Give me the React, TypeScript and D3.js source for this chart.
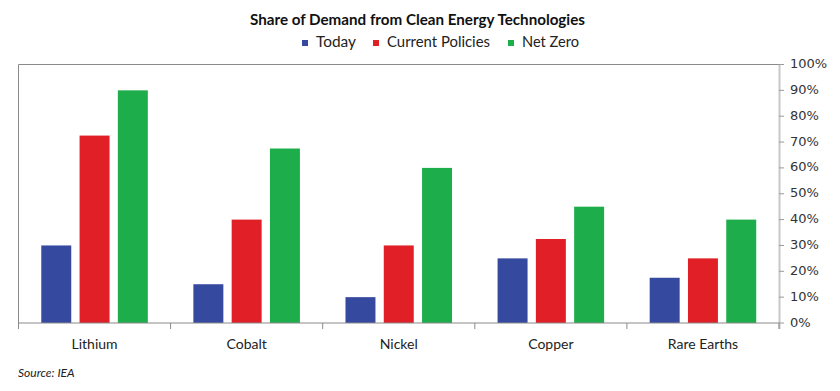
import * as d3 from "d3";

const categories = ["Lithium", "Cobalt", "Nickel", "Copper", "Rare Earths"];
const seriesNames = ["Today", "Current Policies", "Net Zero"];
const today = [30, 15, 10, 25, 17.5];
const currentPolicies = [72.5, 40, 30, 32.5, 25];
const netZero = [90, 67.5, 60, 45, 40];
const seriesColors = ["#354a9f", "#e01f26", "#1dae4b"];
const yTicks = [0, 10, 20, 30, 40, 50, 60, 70, 80, 90, 100];

const WIDTH = 840;
const HEIGHT = 391;
const MARGIN = { top: 64.5, right: 61, bottom: 68, left: 18.5 };

// legend layout: square x, text width
const legendItems = [
  { x: 302, textW: 40 },
  { x: 373, textW: 103 },
  { x: 508, textW: 57 },
];

export default function App() {
  const boundsWidth = WIDTH - MARGIN.left - MARGIN.right;
  const boundsHeight = HEIGHT - MARGIN.top - MARGIN.bottom;
  const values = [today, currentPolicies, netZero];

  const x0 = d3
    .scaleBand()
    .domain(categories)
    .range([MARGIN.left, MARGIN.left + boundsWidth])
    .padding(0);

  const x1 = d3
    .scaleBand()
    .domain(seriesNames)
    .range([0, x0.bandwidth()])
    .paddingInner(0.217)
    .paddingOuter(0.595);

  const y = d3
    .scaleLinear()
    .domain([0, 100])
    .range([MARGIN.top + boundsHeight, MARGIN.top]);

  const right = MARGIN.left + boundsWidth;
  const bottom = y(0);

  return (
    <svg
      width={WIDTH}
      height={HEIGHT}
      style={{ position: "absolute", left: 0, top: 0 }}
    >
      <rect width={WIDTH} height={HEIGHT} fill="#fff" />

      {/* title + legend */}
      <text
        x={250}
        y={25}
        fontFamily="Lato, sans-serif"
        fontWeight="bold"
        fontSize={14.5}
        fill="#111"
        textLength={335}
        lengthAdjust="spacingAndGlyphs"
      >
        Share of Demand from Clean Energy Technologies
      </text>
      {legendItems.map((it, i) => (
        <g key={i}>
          <rect x={it.x} y={40} width={6} height={6} fill={seriesColors[i]} />
          <text
            x={it.x + 14}
            y={47}
            fontFamily="Lato, sans-serif"
            fontSize={14.5}
            fill="#222"
            textLength={it.textW}
            lengthAdjust="spacingAndGlyphs"
          >
            {seriesNames[i]}
          </text>
        </g>
      ))}

      {/* frame */}
      <line x1={MARGIN.left} x2={right + 4} y1={y(100)} y2={y(100)} stroke="#8a8a8a" strokeWidth={1} />
      <line x1={MARGIN.left} x2={MARGIN.left} y1={y(100)} y2={bottom} stroke="#8a8a8a" strokeWidth={1} />

      {/* bars */}
      {categories.map((cat, ci) => (
        <g key={cat} transform={`translate(${x0(cat)},0)`}>
          {seriesNames.map((s, si) => (
            <rect
              key={s}
              x={x1(s)}
              y={y(values[si][ci])}
              width={x1.bandwidth()}
              height={bottom - y(values[si][ci])}
              fill={seriesColors[si]}
            />
          ))}
        </g>
      ))}

      {/* right axis */}
      <line x1={right + 0.5} x2={right + 0.5} y1={y(100)} y2={bottom + 6} stroke="#c8c8c8" strokeWidth={2} />
      {yTicks.map((t) => (
        <g key={t}>
          <line x1={right} x2={right + 5} y1={y(t)} y2={y(t)} stroke="#9a9a9a" strokeWidth={1} />
          <text
            x={right + 11}
            y={y(t)}
            dominantBaseline="middle"
            fontFamily="DejaVu Sans, sans-serif"
            fontSize={13}
            fill="#333"
          >
            {t}%
          </text>
        </g>
      ))}

      {/* bottom axis */}
      <line x1={MARGIN.left} x2={right} y1={bottom} y2={bottom} stroke="#8a8a8a" strokeWidth={1} />
      {[...categories.map((c) => x0(c) ?? 0), right].map((xv, i) => (
        <line key={i} x1={xv} x2={xv} y1={bottom} y2={bottom + 6} stroke="#8a8a8a" strokeWidth={1} />
      ))}
      {categories.map((cat) => (
        <text
          key={cat}
          x={(x0(cat) ?? 0) + x0.bandwidth() / 2}
          y={349}
          textAnchor="middle"
          fontFamily="Lato, sans-serif"
          fontSize={14}
          fill="#222"
        >
          {cat}
        </text>
      ))}

      <text
        x={18}
        y={377}
        fontFamily="Lato, sans-serif"
        fontStyle="italic"
        fontSize={12}
        fill="#222"
      >
        Source: IEA
      </text>
    </svg>
  );
}
